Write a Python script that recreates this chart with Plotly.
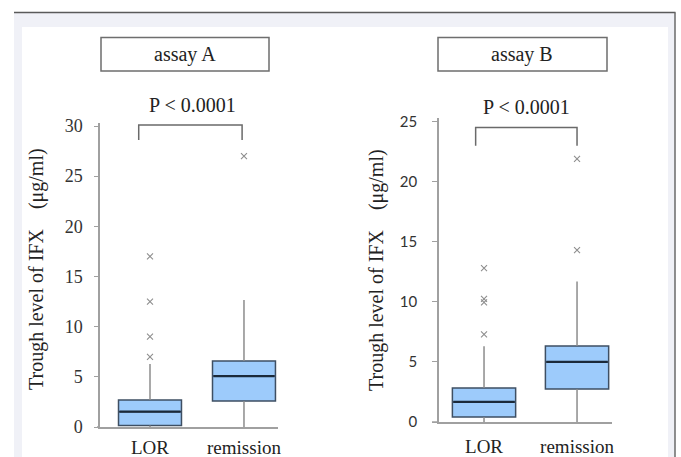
import plotly.graph_objects as go

W, H = 681, 457

# ---------------- data ----------------
categories = ["LOR", "remission"]

# assay A
a_q1 = [0.15, 2.6]
a_median = [1.53, 5.08]
a_q3 = [2.7, 6.58]
a_whisker_low = [0.0, 0.0]
a_whisker_high = [6.28, 12.66]
a_outliers = [[17.0, 12.5, 9.0, 7.0], [27.0]]

# assay B
b_q1 = [0.42, 2.75]
b_median = [1.67, 5.0]
b_q3 = [2.83, 6.33]
b_whisker_low = [0.0, 0.0]
b_whisker_high = [6.3, 11.7]
b_outliers = [[12.8, 10.25, 9.95, 7.3], [14.3, 21.9]]

a_ticks = [0, 5, 10, 15, 20, 25, 30]
b_ticks = [0, 5, 10, 15, 20, 25]

# bracket (x from, x to, y low, y high)
a_bracket = [-0.12, 0.98, 28.6, 30.1]
b_bracket = [-0.09, 1.0, 23.0, 24.5]

p_text = "P < 0.0001"
titles = ["assay A", "assay B"]
y_title = "Trough level of IFX\u3000(μg/ml)"

# ---------------- styles ----------------
SERIF = "Liberation Serif"
SANS = "Lato"
BOX_FILL = "#9dcbfb"
BOX_LINE = "#3e4f63"
MEDIAN_LINE = "#1b2a3a"
WHISK = "#8c8c8c"
AXIS = "#a0a0a0"
TXT = "#333333"


def px(x):
    return x / W


def py(y):
    return 1 - y / H


fig = go.Figure()


def add_panel(xref, yref, q1, med, q3, wl, wh, outl, boxw):
    for i, _ in enumerate(categories):
        fig.add_trace(go.Scatter(
            x=[i, i, None, i, i], y=[wl[i], q1[i], None, q3[i], wh[i]],
            mode="lines", line=dict(color=WHISK, width=1.5),
            xaxis=xref, yaxis=yref, showlegend=False, hoverinfo="skip"))
    fig.add_trace(go.Box(
        x=list(range(len(categories))), q1=q1, median=med, q3=q3,
        lowerfence=q1, upperfence=q3, width=boxw, whiskerwidth=0,
        fillcolor=BOX_FILL, line=dict(color=BOX_LINE, width=1.5),
        boxpoints=False, xaxis=xref, yaxis=yref, showlegend=False))
    for i, _ in enumerate(categories):
        fig.add_trace(go.Scatter(
            x=[i - boxw / 2 + 0.01, i + boxw / 2 - 0.01], y=[med[i], med[i]],
            mode="lines", line=dict(color=MEDIAN_LINE, width=2.2),
            xaxis=xref, yaxis=yref, showlegend=False, hoverinfo="skip"))
        fig.add_trace(go.Scatter(
            x=[i] * len(outl[i]), y=outl[i], mode="markers",
            marker=dict(symbol="x-thin", size=6, line=dict(color="#8e8e8e", width=1.1)),
            xaxis=xref, yaxis=yref, showlegend=False, hoverinfo="skip"))


add_panel("x", "y", a_q1, a_median, a_q3, a_whisker_low, a_whisker_high, a_outliers, 0.67)
add_panel("x2", "y2", b_q1, b_median, b_q3, b_whisker_low, b_whisker_high, b_outliers, 0.68)

shapes = [
    dict(type="rect", xref="paper", yref="paper", x0=px(14), x1=px(675), y0=0, y1=py(12.5),
         fillcolor="#f0f1f7", line=dict(width=0), layer="below"),
    dict(type="rect", xref="paper", yref="paper", x0=px(22), x1=px(668), y0=0, y1=py(27),
         fillcolor="#ffffff", line=dict(width=0), layer="below"),
    dict(type="line", xref="paper", yref="paper", x0=px(14), x1=px(675.5), y0=py(12.5), y1=py(12.5),
         line=dict(color="#5a5a5a", width=1.5)),
    dict(type="line", xref="paper", yref="paper", x0=px(675), x1=px(675), y0=py(12.5), y1=0,
         line=dict(color="#6a6a6a", width=1.5)),
    dict(type="rect", xref="paper", yref="paper", x0=px(101), x1=px(269), y0=py(71), y1=py(37.5),
         line=dict(color="#6e6e6e", width=1.5), fillcolor="rgba(0,0,0,0)"),
    dict(type="rect", xref="paper", yref="paper", x0=px(438), x1=px(607), y0=py(71), y1=py(37.5),
         line=dict(color="#6e6e6e", width=1.5), fillcolor="rgba(0,0,0,0)"),
    # x-axis baselines start slightly left of the y axes, as in the reference
    dict(type="line", xref="paper", yref="paper", x0=px(97), x1=px(100), y0=py(427), y1=py(427),
         line=dict(color=AXIS, width=1.5)),
    dict(type="line", xref="paper", yref="paper", x0=px(432), x1=px(439), y0=py(422), y1=py(422),
         line=dict(color=AXIS, width=1.5)),
]
for xr, yr, br in (("x", "y", a_bracket), ("x2", "y2", b_bracket)):
    x0, x1, ylo, yhi = br
    shapes.append(dict(type="path", xref=xr, yref=yr,
                       path=f"M {x0},{ylo} L {x0},{yhi} L {x1},{yhi} L {x1},{ylo}",
                       line=dict(color="#6a6a6a", width=1.5)))


def ann(text, x, y, angle=0):
    return dict(text=text, x=px(x), y=py(y), xref="paper", yref="paper", showarrow=False,
                xanchor="center", yanchor="middle", textangle=angle,
                font=dict(family=SERIF, size=20, color="#222"))


annotations = [
    ann(titles[0], 185, 54),
    ann(titles[1], 522, 54),
    ann(p_text, 192, 105),
    ann(p_text, 526, 107),
    ann(y_title, 36, 269, -90),
    ann(y_title, 376, 270, -90),
]

common_x = dict(showgrid=False, zeroline=False, showline=True, linecolor=AXIS, linewidth=1.5,
                ticks="", tickvals=[0, 1], ticktext=categories, automargin=False,
                tickfont=dict(family=SERIF, size=19, color="#222"))
common_y = dict(showgrid=False, zeroline=False, showline=True, linecolor=AXIS, linewidth=1.5,
                ticks="outside", tickcolor=AXIS, tickwidth=1.2, automargin=False)

fig.update_layout(
    width=W, height=H, margin=dict(l=0, r=0, t=0, b=0, pad=0, autoexpand=False),
    paper_bgcolor="white", plot_bgcolor="rgba(0,0,0,0)", showlegend=False,
    shapes=shapes, annotations=annotations,
    xaxis=dict(domain=[px(100), px(278)], range=[-0.532, 1.362], anchor="y",
               ticklabelstandoff=2, **common_x),
    yaxis=dict(domain=[py(427), py(123)], range=[0, 30.3], anchor="x",
               tickvals=a_ticks, ticklen=4, ticklabelstandoff=8,
               tickfont=dict(family=SERIF, size=18, color=TXT), **common_y),
    xaxis2=dict(domain=[px(439), px(612)], range=[-0.484, 1.376], anchor="y2",
                ticklabelstandoff=6, **common_x),
    yaxis2=dict(domain=[py(422), py(118)], range=[0, 25.3], anchor="x2",
                tickvals=b_ticks, ticklen=5, ticklabelstandoff=12,
                tickfont=dict(family=SANS, size=15, color=TXT), **common_y),
)

fig.write_html(
    "out.html",
    config={"displayModeBar": False},
    post_script="document.body.style.margin='0';document.body.style.overflow='hidden';",
)
